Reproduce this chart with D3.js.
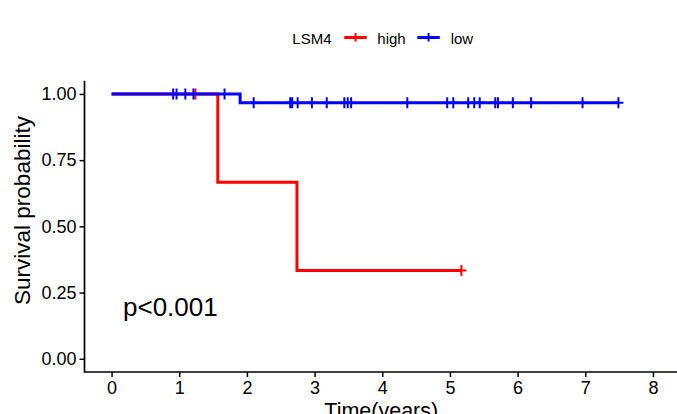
<!DOCTYPE html>
<html>
<head>
<meta charset="utf-8">
<script src="https://cdn.jsdelivr.net/npm/d3@7"></script>
<style>
  html, body { margin: 0; padding: 0; background: #fff; }
  svg { display: block; font-family: "Liberation Sans", Arial, sans-serif; }
</style>
</head>
<body>
<svg id="chart" width="677" height="414"></svg>
<script>
// ---- data ----
const groups = ["high", "low"];
const groupColors = ["#FF0000", "#0000FF"];
const highTimes = [0, 1.57, 2.74];
const highSurv = [1, 0.667, 0.333];
const highEnd = 5.17;
const highCensor = [1.24, 5.17];
const lowTimes = [0, 1.90];
const lowSurv = [1, 0.967];
const lowEnd = 7.49;
const lowCensor = [0.91, 0.96, 1.09, 1.21, 1.67, 2.10, 2.64, 2.67, 2.75, 2.96, 3.18,
                   3.44, 3.49, 3.54, 4.37, 4.96, 5.05, 5.27, 5.36, 5.44, 5.67, 5.71,
                   5.93, 6.20, 6.96, 7.49];
const xTicks = [0, 1, 2, 3, 4, 5, 6, 7, 8];
const yTicks = [0, 0.25, 0.5, 0.75, 1];
const legendTitle = "LSM4";
const pLabel = "p<0.001";
const xTitle = "Time(years)";
const yTitle = "Survival probability";

const series = [
  { name: groups[0], color: groupColors[0], times: highTimes, surv: highSurv, end: highEnd, censor: highCensor },
  { name: groups[1], color: groupColors[1], times: lowTimes, surv: lowSurv, end: lowEnd, censor: lowCensor }
];

// ---- layout ----
const svg = d3.select("#chart");
const pLeft = 84.5, pRight = 680, pTop = 80.7, pBottom = 372;
const x = d3.scaleLinear().domain([-0.4, 8.4]).range([pLeft, pRight]);
const y = d3.scaleLinear().domain([-0.05, 1.05]).range([pBottom, pTop]);

// survival value at time t (step)
function survAt(s, t) {
  let v = s.surv[0];
  for (let i = 0; i < s.times.length; i++) if (s.times[i] <= t) v = s.surv[i];
  return v;
}

const line = d3.line().x(d => x(d[0])).y(d => y(d[1])).curve(d3.curveStepAfter);

series.forEach(s => {
  const pts = s.times.map((t, i) => [t, s.surv[i]]);
  pts.push([s.end, s.surv[s.surv.length - 1]]);
  const g = svg.append("g");
  g.append("path")
    .attr("d", line(pts))
    .attr("fill", "none")
    .attr("stroke", s.color)
    .attr("stroke-width", 3);
  const cs = 5;
  const plus = d3.path();
  s.censor.forEach(t => {
    const cx = x(t), cy = y(survAt(s, t));
    plus.moveTo(cx - cs, cy); plus.lineTo(cx + cs, cy);
    plus.moveTo(cx, cy - cs - 0.5); plus.lineTo(cx, cy + cs + 0.5);
  });
  g.append("path")
    .attr("d", plus.toString())
    .attr("fill", "none")
    .attr("stroke", s.color)
    .attr("stroke-width", 2);
});

// ---- axes ----
const xAxis = d3.axisBottom(x).tickValues(xTicks).tickFormat(d3.format("d")).tickSize(5).tickPadding(4);
const gx = svg.append("g").attr("transform", `translate(0,${pBottom})`).call(xAxis);
const yAxis = d3.axisLeft(y).tickValues(yTicks).tickFormat(d3.format(".2f")).tickSize(5).tickPadding(3);
const gy = svg.append("g").attr("transform", `translate(${pLeft},0)`).call(yAxis);

[gx, gy].forEach(g => {
  g.select(".domain").remove();
  g.selectAll(".tick line").attr("stroke", "#000").attr("stroke-width", 1.5);
  g.selectAll(".tick text").attr("fill", "#000")
    .style("font-family", "'Liberation Sans', Arial, sans-serif").style("font-size", "18px");
});
svg.append("line").attr("x1", pLeft).attr("x2", pRight).attr("y1", pBottom).attr("y2", pBottom)
  .attr("stroke", "#000").attr("stroke-width", 1.7);
svg.append("line").attr("x1", pLeft).attr("x2", pLeft).attr("y1", pTop).attr("y2", pBottom + 0.85)
  .attr("stroke", "#000").attr("stroke-width", 1.7);

// ---- titles ----
svg.append("text")
  .attr("x", (pLeft + pRight) / 2 - 1).attr("y", 417.5)
  .attr("text-anchor", "middle").style("font-size", "21.5px").attr("fill", "#000")
  .text(xTitle);
svg.append("text")
  .attr("transform", "translate(29.5,210.5) rotate(-90)")
  .attr("text-anchor", "middle").style("font-size", "22.5px").attr("fill", "#000")
  .text(yTitle);

// ---- p value ----
svg.append("text")
  .attr("x", 123).attr("y", 316)
  .style("font-size", "26px").attr("fill", "#000")
  .text(pLabel);

// ---- legend ----
const lg = svg.append("g");
lg.append("text").attr("x", 292.3).attr("y", 43.5).style("font-size", "15px").attr("fill", "#000").text(legendTitle);
const keyX = [344.3, 417.3];
const labX = [377.3, 450.7];
series.forEach((s, i) => {
  const ky = 37.5;
  lg.append("line").attr("x1", keyX[i]).attr("x2", keyX[i] + 22.5).attr("y1", ky).attr("y2", ky)
    .attr("stroke", s.color).attr("stroke-width", 3);
  lg.append("line").attr("x1", keyX[i] + 11.25).attr("x2", keyX[i] + 11.25).attr("y1", ky - 4.5).attr("y2", ky + 4)
    .attr("stroke", s.color).attr("stroke-width", 2);
  lg.append("text").attr("x", labX[i]).attr("y", 43.5).style("font-size", "15px").attr("fill", "#000").text(s.name);
});
</script>
</body>
</html>
